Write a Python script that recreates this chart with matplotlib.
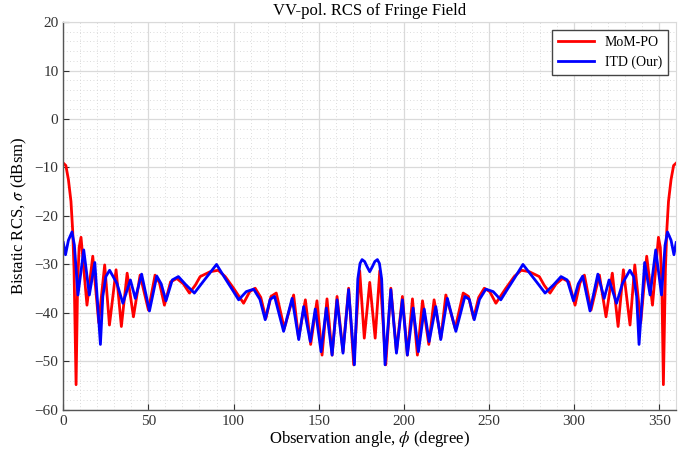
import numpy as np
import matplotlib
matplotlib.use('Agg')
import matplotlib.pyplot as plt
from matplotlib.ticker import MultipleLocator

plt.rcParams['font.family'] = ['Liberation Serif', 'DejaVu Serif']
plt.rcParams['mathtext.fontset'] = 'stix'

# ---------------------------------------------------------------------------
# values (angle in degree, RCS in dBsm)

# MoM-PO (red)
phi_mom = [0, 1.5, 3.0, 4.5, 5.5, 6.3, 7.5, 8.4, 9.3, 10.4, 13.9, 17.3, 20.8, 24.3,
           27.1, 31.0, 34.1, 37.5, 41.2, 45.1, 50.0, 53.9, 56.5, 59.4, 63.0, 66.7,
           70.5, 74.1, 77.5, 80.4, 86.3, 91.0, 95.1, 100.0, 105.9, 109.5, 112.7,
           116.0, 119.0, 122.0, 125.1, 129.8, 135.3, 138.2, 142.2, 145.3, 149.0,
           152.0, 154.9, 157.9, 160.8, 164.3, 167.6, 170.6, 174.1, 176.8, 180.0,
           183.2, 185.9, 189.4, 192.4, 195.7, 199.2, 202.1, 205.1, 208.0, 211.0,
           214.7, 217.8, 221.8, 224.7, 230.2, 234.9, 238.0, 241.0, 244.0, 247.3,
           250.5, 254.1, 260.0, 264.9, 269.0, 273.7, 279.6, 282.5, 285.9, 289.5,
           293.3, 297.0, 300.6, 303.5, 306.1, 310.0, 314.9, 318.8, 322.5, 325.9,
           329.0, 332.9, 335.7, 339.2, 342.7, 346.1, 349.6, 350.7, 351.6, 352.5,
           353.7, 354.5, 355.5, 357.0, 358.5, 360]
rcs_mom = [-9.1, -9.6, -12.5, -17, -23, -31, -54.8, -34, -26.5, -24.4, -38.4, -28.3, -42, -30.1,
           -42.5, -31.1, -42.8, -31.8, -40.8, -32.2, -39.4, -32.2, -33.8, -38.4, -33.6, -32.9,
           -34, -35.9, -34.3, -32.5, -31.5, -31.2, -32.5, -34.9, -38.0, -35.6, -34.9,
           -36.8, -41.1, -36.6, -35.9, -43.2, -36.3, -45.2, -37.3, -46.5, -37.5,
           -48.7, -37.1, -48.7, -36.6, -48.0, -34.9, -50.7, -31.3, -45.2, -33.7,
           -45.2, -31.3, -50.7, -34.9, -48.0, -36.6, -48.7, -37.1, -48.7, -37.5,
           -46.5, -37.3, -45.2, -36.3, -43.2, -35.9, -36.6, -41.1, -36.8, -34.9,
           -35.6, -38.0, -34.9, -32.5, -31.2, -31.5, -32.5, -34.3, -35.9, -34,
           -32.9, -33.6, -38.4, -33.8, -32.2, -39.4, -32.2, -40.8, -31.8, -42.8,
           -31.1, -42.5, -30.1, -42, -28.3, -38.4, -24.4, -26.5, -34, -54.8,
           -31, -23, -17, -12.5, -9.6, -9.1]

# ITD (blue)
phi_itd = [0, 1.3, 3.0, 5.1, 6.5, 8.6, 12.0, 15.3, 18.5, 21.8, 23.2, 25.0, 27.2, 31.5,
           35.0, 39.4, 42.3, 46.0, 50.6, 54.9, 57.5, 60.3, 64.0, 67.6, 72.0, 77.0,
           82.0, 86.0, 90.0, 95.1, 100.0, 103.0, 107.5, 111.8, 115.5, 118.6, 121.5,
           124.1, 129.4, 134.4, 138.3, 141.2, 145.1, 148.0, 151.4, 154.5, 157.9,
           160.8, 164.3, 167.6, 171.0, 173.0, 174.3, 175.5, 177.0, 178.5, 180.0,
           181.5, 183.0, 184.5, 185.7, 187.0, 189.0, 192.4, 195.7, 199.2, 202.1,
           205.5, 208.6, 212.0, 214.9, 218.8, 221.7, 225.6, 230.6, 235.9, 238.5,
           241.4, 244.5, 248.2, 252.5, 257.0, 260.0, 264.9, 270.0, 274.0, 278.0,
           283.0, 288.0, 292.4, 296.0, 299.7, 302.5, 305.1, 309.4, 314.0, 317.7,
           320.6, 325.0, 328.5, 332.8, 335.0, 336.8, 338.2, 341.5, 344.7, 348.0,
           351.4, 353.5, 354.9, 357.0, 358.7, 360]
rcs_itd = [-25.5, -28, -25, -23.3, -26, -36.3, -27, -36.3, -29.6, -46.5, -36.6, -32.5, -31.2, -33.9,
           -38.0, -33.2, -37, -32, -39.6, -32.4, -34, -37.5, -33.2, -32.5, -34.2, -35.9,
           -33.6, -31.8, -30.0, -32.9, -35.6, -37.3, -35.6, -35.1, -37.2, -41.4, -37.2,
           -36.6, -43.8, -37.0, -45.5, -38.7, -45.9, -39.2, -48.0, -39.0, -48.7,
           -37.3, -48.3, -35.2, -50.7, -33, -29.8, -29.0, -29.4, -30.5, -31.5,
           -30.5, -29.4, -29.0, -29.8, -33, -50.7, -35.2, -48.3, -37.3, -48.7,
           -39.0, -48.0, -39.2, -45.9, -38.7, -45.5, -37.0, -43.8, -36.6, -37.2,
           -41.4, -37.2, -35.1, -35.6, -37.3, -35.6, -32.9, -30.0, -31.8, -33.6,
           -35.9, -34.2, -32.5, -33.2, -37.5, -34, -32.4, -39.6, -32, -37,
           -33.2, -38.0, -33.9, -31.2, -32.5, -36.6, -46.5, -29.6, -36.3, -27,
           -36.3, -26, -23.3, -25, -28, -25.5]

# ---------------------------------------------------------------------------
fig = plt.figure(figsize=(6.98, 4.59), dpi=100)
ax = fig.add_axes([0.0907, 0.107, 0.878, 0.845])

ax.plot(phi_mom, rcs_mom, color='#ff0000', lw=2.0, label='MoM-PO',
        solid_joinstyle='round')
ax.plot(phi_itd, rcs_itd, color='#0000ff', lw=2.0, label='ITD (Our)',
        solid_joinstyle='round')

ax.set_xlim(0, 360)
ax.set_ylim(-60, 20)
ax.xaxis.set_major_locator(MultipleLocator(50))
ax.xaxis.set_minor_locator(MultipleLocator(10))
ax.yaxis.set_major_locator(MultipleLocator(10))
ax.yaxis.set_minor_locator(MultipleLocator(2))

ax.grid(which='major', color='#dadada', lw=0.9, ls='-')
ax.grid(which='minor', color='#d0d0d0', lw=0.6, ls=(0, (1, 3)))
ax.set_axisbelow(True)

ax.tick_params(which='major', direction='in', length=4, width=0.8, labelsize=11,
               colors='#333333', top=False, right=False)
ax.tick_params(which='minor', length=0)
for s in ['left', 'bottom']:
    ax.spines[s].set_color('#555555')
    ax.spines[s].set_linewidth(1.0)
for s in ['top', 'right']:
    ax.spines[s].set_color('#dadada')
    ax.spines[s].set_linewidth(0.8)

ax.set_title('VV-pol. RCS of Fringe Field', fontsize=12, pad=5)
ax.set_xlabel(r'Observation angle, $\phi$ (degree)', fontsize=12, labelpad=1)
ax.set_ylabel(r'Bistatic RCS, $\sigma$ (dBsm)', fontsize=12, labelpad=4)

leg = ax.legend(loc='upper right', fontsize=10, fancybox=False, framealpha=1,
                edgecolor='#444444', handlelength=2.6, borderaxespad=0.6)
leg.get_frame().set_linewidth(1.0)

fig.savefig('out.png', dpi=100)
